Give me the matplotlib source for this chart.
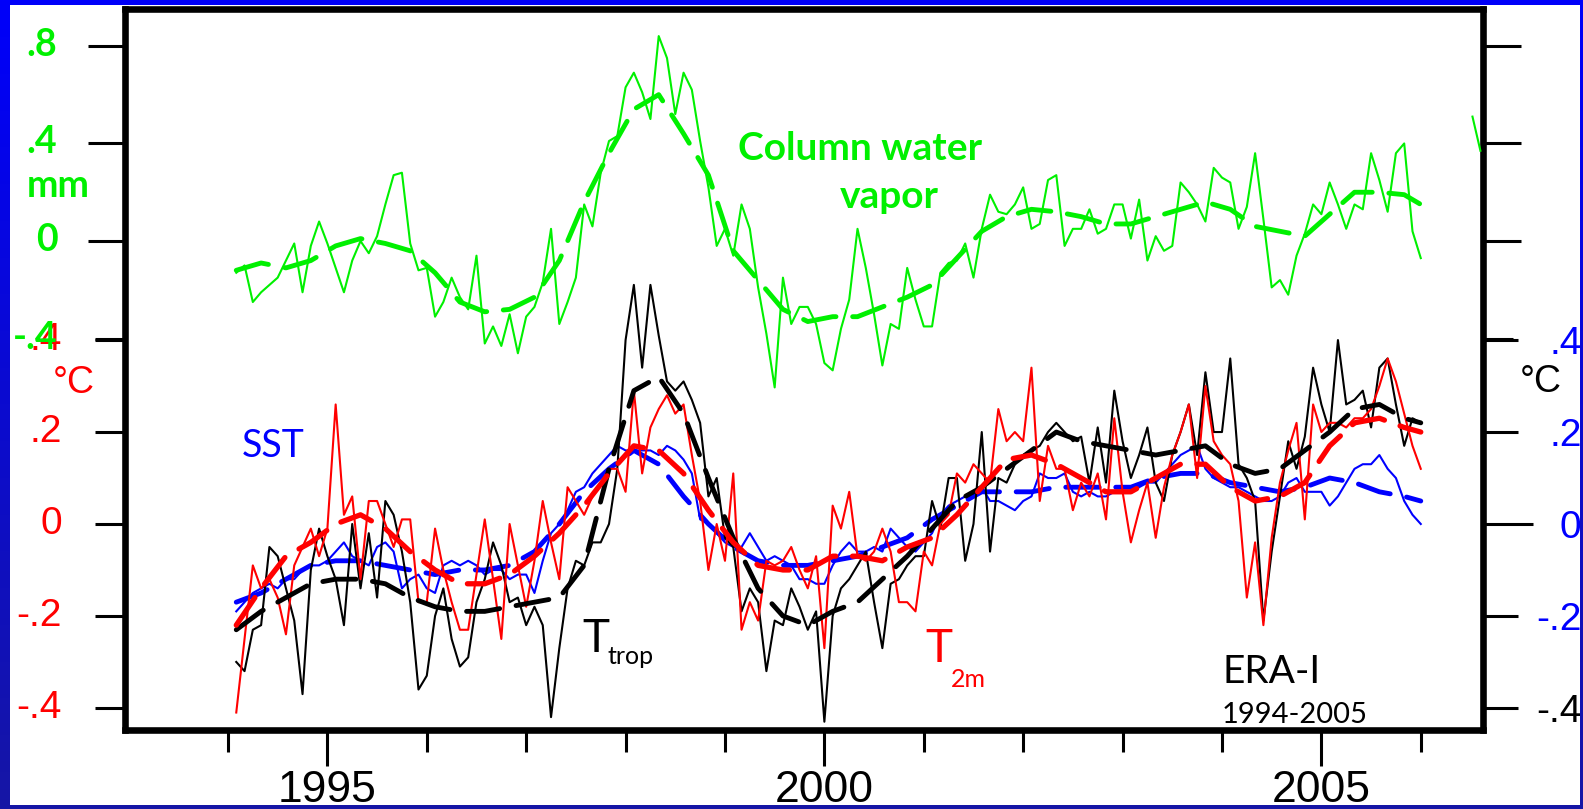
import numpy as np
import matplotlib
matplotlib.use("Agg")
import matplotlib.pyplot as plt
from matplotlib.transforms import ScaledTranslation

plt.rcParams['font.family'] = ['Liberation Sans', 'DejaVu Sans']
plt.rcParams['lines.scale_dashes'] = False

# ---------------- data ----------------
years_major = [1995, 2000, 2005]
years_minor = [1994, 1996, 1997, 1998, 1999, 2001, 2002, 2003, 2004, 2006]
cwv_ticks = [0.0, 0.4, 0.8]
cwv_ticklabels = ['0', '.4', '.8']
temp_ticks = [-0.4, -0.2, 0.0, 0.2, 0.4]
temp_ticklabels = ['-.4', '-.2', '0', '.2', '.4']

month = np.arange(144)
t_month = 1994 + (month + 1) / 12.0
smooth_idx = np.r_[np.arange(0, 142, 3), 143]
t_smooth = 1994 + (smooth_idx + 1) / 12.0

# column water vapor anomaly (mm), monthly
cwv = [-0.13, -0.10, -0.25, -0.21, -0.18, -0.15, -0.08, -0.01, -0.21, -0.02, 0.08, -0.01,
       -0.11, -0.21, -0.08, 0.00, -0.05, 0.02, 0.15, 0.27, 0.28, -0.01, -0.12, -0.11,
       -0.31, -0.25, -0.15, -0.23, -0.28, -0.06, -0.42, -0.35, -0.43, -0.30, -0.46, -0.31,
       -0.27, -0.17, 0.05, -0.34, -0.25, -0.15, 0.15, 0.06, 0.28, 0.41, 0.43, 0.63,
       0.69, 0.61, 0.50, 0.84, 0.75, 0.52, 0.69, 0.62, 0.41, 0.22, -0.02, 0.05,
       -0.06, 0.15, 0.05, -0.19, -0.38, -0.60, -0.15, -0.34, -0.27, -0.27, -0.34, -0.50,
       -0.53, -0.36, -0.24, 0.05, -0.11, -0.30, -0.51, -0.34, -0.36, -0.11, -0.24, -0.35,
       -0.35, -0.13, -0.09, -0.08, -0.01, -0.15, 0.05, 0.19, 0.12, 0.11, 0.15, 0.22,
       0.05, 0.07, 0.25, 0.27, -0.02, 0.05, 0.05, 0.13, 0.03, 0.05, 0.15, 0.15,
       0.01, 0.17, -0.08, 0.02, -0.04, -0.02, 0.24, 0.20, 0.15, 0.08, 0.30, 0.26,
       0.24, 0.05, 0.14, 0.36, 0.09, -0.19, -0.16, -0.22, -0.06, 0.03, 0.15, 0.11,
       0.24, 0.15, 0.05, 0.15, 0.13, 0.36, 0.25, 0.12, 0.36, 0.40, 0.04, -0.07]
cwv_smooth = [-0.12, -0.09, -0.11, -0.08, -0.02, 0.01, -0.01, -0.04, -0.13, -0.25, -0.29, -0.28,
              -0.23, -0.08, 0.16, 0.36, 0.54, 0.60, 0.44, 0.27, -0.04, -0.16, -0.28, -0.33,
              -0.31, -0.31, -0.27, -0.23, -0.18, -0.07, 0.04, 0.10, 0.13, 0.12, 0.10, 0.07,
              0.07, 0.10, 0.13, 0.16, 0.13, 0.06, 0.04, 0.02, 0.11, 0.20, 0.20, 0.19, 0.15]
cwv_stray_t = [2006.52, 2006.60]
cwv_stray = [0.51, 0.37]

# SST anomaly (C)
sst = [-0.19, -0.17, -0.15, -0.14, -0.13, -0.14, -0.12, -0.12, -0.10, -0.09, -0.09, -0.08,
       -0.06, -0.04, -0.07, -0.08, -0.09, -0.05, -0.04, -0.06, -0.14, -0.12, -0.11, -0.14,
       -0.15, -0.09, -0.08, -0.09, -0.08, -0.09, -0.11, -0.10, -0.10, -0.12, -0.11, -0.11,
       -0.15, -0.08, -0.02, 0.00, 0.03, 0.07, 0.08, 0.11, 0.13, 0.15, 0.17, 0.16,
       0.16, 0.16, 0.16, 0.15, 0.17, 0.16, 0.14, 0.11, 0.01, 0.00, -0.02, -0.04,
       -0.05, -0.05, -0.02, -0.05, -0.08, -0.07, -0.08, -0.09, -0.12, -0.12, -0.13, -0.13,
       -0.09, -0.06, -0.04, -0.06, -0.06, -0.05, -0.06, -0.01, -0.03, -0.05, -0.06, -0.04,
       -0.02, 0.02, 0.04, 0.05, 0.06, 0.07, 0.08, 0.05, 0.05, 0.04, 0.03, 0.05,
       0.06, 0.11, 0.10, 0.10, 0.11, 0.07, 0.06, 0.07, 0.06, 0.06, 0.07, 0.07,
       0.07, 0.08, 0.09, 0.09, 0.11, 0.13, 0.15, 0.16, 0.17, 0.12, 0.10, 0.09,
       0.08, 0.08, 0.07, 0.06, 0.05, 0.05, 0.06, 0.09, 0.10, 0.07, 0.07, 0.07,
       0.04, 0.06, 0.09, 0.12, 0.13, 0.13, 0.15, 0.12, 0.10, 0.05, 0.02, 0.00]
sst_smooth = [-0.17, -0.15, -0.12, -0.09, -0.08, -0.08, -0.09, -0.10, -0.11, -0.10, -0.10, -0.09,
              -0.06, 0.00, 0.07, 0.12, 0.16, 0.13, 0.06, 0.00, -0.05, -0.08, -0.09, -0.09,
              -0.08, -0.07, -0.05, -0.03, 0.01, 0.04, 0.07, 0.07, 0.07, 0.08, 0.08, 0.08,
              0.08, 0.10, 0.11, 0.11, 0.09, 0.08, 0.07, 0.08, 0.10, 0.09, 0.07, 0.06, 0.05]

# tropospheric temperature anomaly (C)
ttrop = [-0.30, -0.32, -0.23, -0.22, -0.05, -0.07, -0.14, -0.21, -0.37, -0.10, -0.01, -0.07,
         -0.12, -0.22, 0.00, -0.14, -0.02, -0.16, 0.05, 0.02, -0.06, -0.17, -0.36, -0.33,
         -0.20, -0.14, -0.25, -0.31, -0.29, -0.17, -0.12, -0.04, -0.09, -0.17, -0.16, -0.22,
         -0.18, -0.22, -0.42, -0.27, -0.14, -0.08, -0.09, -0.04, -0.04, 0.00, 0.12, 0.40,
         0.52, 0.34, 0.52, 0.41, 0.31, 0.29, 0.31, 0.27, 0.22, 0.06, 0.10, -0.03,
         -0.05, -0.19, -0.14, -0.17, -0.32, -0.21, -0.22, -0.14, -0.18, -0.23, -0.19, -0.43,
         -0.20, -0.14, -0.12, -0.09, -0.06, -0.17, -0.27, -0.13, -0.12, -0.09, -0.07, -0.07,
         0.05, -0.01, 0.10, 0.10, -0.08, 0.00, 0.20, -0.06, 0.10, 0.09, 0.13, 0.15,
         0.16, 0.17, 0.20, 0.22, 0.20, 0.18, 0.19, 0.09, 0.21, 0.09, 0.29, 0.18,
         0.10, 0.15, 0.21, 0.09, 0.05, 0.15, 0.20, 0.26, 0.15, 0.33, 0.20, 0.20,
         0.36, 0.13, 0.10, 0.05, -0.21, -0.06, 0.06, 0.18, 0.12, 0.19, 0.34, 0.26,
         0.20, 0.40, 0.26, 0.27, 0.29, 0.21, 0.34, 0.36, 0.26, 0.17, 0.23, 0.22]
ttrop_smooth = [-0.23, -0.19, -0.16, -0.13, -0.12, -0.12, -0.13, -0.16, -0.18, -0.19, -0.19, -0.18,
                -0.17, -0.16, -0.09, 0.12, 0.29, 0.32, 0.24, 0.10, -0.03, -0.14, -0.20, -0.22,
                -0.19, -0.17, -0.12, -0.07, -0.01, 0.05, 0.08, 0.12, 0.16, 0.20, 0.18, 0.17,
                0.16, 0.15, 0.16, 0.17, 0.13, 0.11, 0.12, 0.16, 0.20, 0.25, 0.26, 0.23, 0.22]

# 2 m temperature anomaly (C)
t2m = [-0.41, -0.25, -0.09, -0.14, -0.12, -0.16, -0.24, -0.09, -0.05, -0.01, -0.07, -0.01,
       0.26, 0.02, 0.06, -0.12, 0.05, 0.05, 0.00, -0.05, 0.01, 0.01, -0.17, -0.17,
       -0.01, -0.10, -0.17, -0.23, -0.23, -0.11, 0.01, -0.12, -0.25, 0.00, -0.09, -0.18,
       -0.08, 0.05, -0.04, -0.12, 0.08, 0.05, 0.02, 0.06, 0.09, 0.12, 0.12, 0.07,
       0.29, 0.11, 0.21, 0.25, 0.28, 0.24, 0.26, 0.15, 0.05, -0.10, 0.00, -0.08,
       0.11, -0.23, -0.17, -0.21, -0.08, -0.09, -0.08, -0.05, -0.10, -0.14, -0.07, -0.27,
       0.04, -0.01, 0.07, -0.07, -0.08, -0.06, -0.01, -0.06, -0.17, -0.17, -0.19, -0.06,
       -0.09, 0.00, 0.02, 0.11, 0.09, 0.13, 0.11, 0.09, 0.25, 0.18, 0.20, 0.18,
       0.34, 0.05, 0.17, 0.12, 0.12, 0.03, 0.09, 0.06, 0.11, 0.01, 0.23, 0.07,
       -0.04, 0.03, 0.09, -0.03, 0.08, 0.15, 0.20, 0.26, 0.10, 0.30, 0.18, 0.15,
       0.13, 0.05, -0.16, -0.04, -0.22, -0.03, 0.09, 0.16, 0.22, 0.01, 0.26, 0.20,
       0.22, 0.22, 0.21, 0.23, 0.23, 0.25, 0.30, 0.36, 0.31, 0.24, 0.17, 0.12]
t2m_smooth = [-0.22, -0.14, -0.07, -0.04, 0.00, 0.02, -0.01, -0.06, -0.10, -0.13, -0.13, -0.11,
              -0.07, -0.02, 0.04, 0.11, 0.17, 0.16, 0.11, 0.03, -0.04, -0.09, -0.10, -0.10,
              -0.07, -0.07, -0.08, -0.05, -0.03, 0.02, 0.08, 0.14, 0.15, 0.13, 0.10, 0.07,
              0.07, 0.10, 0.13, 0.13, 0.08, 0.05, 0.06, 0.09, 0.17, 0.22, 0.23, 0.21, 0.20]

# ---------------- layout helpers ----------------
W, H = 1583, 809
fig = plt.figure(figsize=(W / 100, H / 100), dpi=100, facecolor='white')


def fx(x):
    return x / W


def fy(y):
    return 1 - y / H


L, R, T, B = 125, 1483, 9, 730
rect = [fx(L), fy(B), fx(R) - fx(L), fy(T) - fy(B)]
XLIM = (1992.964, 2006.626)
TLIM = (-0.448, 1.120)
GLIM = (-2.004, 0.951)

GREEN = '#00f000'
RED = '#ff0000'
BLUE = '#0000ff'
lift = ScaledTranslation(0, 4 / 100, fig.dpi_scale_trans)

# temperature axes (left, red)
ax = fig.add_axes(rect)
ax.set_xlim(*XLIM)
ax.set_ylim(*TLIM)
ax.set_facecolor('white')
for s in ax.spines.values():
    s.set_linewidth(4.75)
ax.set_xticks(years_major, labels=[str(y) for y in years_major])
ax.set_xticks(years_minor, minor=True)
ax.tick_params(axis='x', which='major', direction='out', length=26, width=2.2,
               labelsize=32, pad=3, top=False)
ax.tick_params(axis='x', which='minor', direction='out', length=16, width=2.2, top=False)
ax.set_yticks(temp_ticks, labels=temp_ticklabels)
ax.tick_params(axis='y', which='major', direction='out', length=21.6, width=2.2,
               labelsize=28, labelcolor=RED, pad=24, left=True, right=False)
for lbl in ax.get_yticklabels():
    lbl.set_transform(lbl.get_transform() + lift)

dash = dict(dashes=(24, 12), dash_capstyle='round', solid_capstyle='round')
ax.plot(t_month, sst, color=BLUE, lw=1.5, zorder=3)
ax.plot(t_smooth, sst_smooth, color=BLUE, lw=3.5, zorder=4, **dash)
ax.plot(t_month, ttrop, color='black', lw=1.5, zorder=5)
ax.plot(t_month, t2m, color=RED, lw=1.5, zorder=6)
ax.plot(t_smooth, ttrop_smooth, color='black', lw=3.5, zorder=7, **dash)
ax.plot(t_smooth, t2m_smooth, color=RED, lw=3.8, zorder=8, **dash)

# column water vapour axes (left ticks green)
axg = fig.add_axes(rect, facecolor='none')
axg.set_xlim(*XLIM)
axg.set_ylim(*GLIM)
for s in axg.spines.values():
    s.set_visible(False)
axg.tick_params(axis='x', which='both', bottom=False, top=False, labelbottom=False)
axg.set_yticks(cwv_ticks, labels=cwv_ticklabels)
axg.set_yticks([-0.4], labels=['-.4'], minor=True)
axg.tick_params(axis='y', which='major', direction='out', length=27, width=2.2,
                labelsize=27, labelcolor=GREEN, pad=21.6, left=True, right=True)
axg.tick_params(axis='y', which='minor', direction='out', length=21.6, width=2.2,
                labelsize=27, labelcolor=GREEN, pad=27, left=True, right=True)
for lbl in axg.get_yticklabels(which='both'):
    lbl.set_fontfamily('Lato')
    lbl.set_fontweight('bold')
    lbl.set_transform(lbl.get_transform() + lift)
axg.plot(t_month, cwv, color=GREEN, lw=1.5)
axg.plot(t_smooth, cwv_smooth, color=GREEN, lw=3.5, **dash)
axg.plot(cwv_stray_t, cwv_stray, color=GREEN, lw=1.5)

# right temperature axis
axr = fig.add_axes(rect, facecolor='none')
axr.set_xlim(*XLIM)
axr.set_ylim(*TLIM)
for s in axr.spines.values():
    s.set_visible(False)
axr.tick_params(axis='x', which='both', bottom=False, top=False, labelbottom=False)
axr.yaxis.tick_right()
right_major = [-0.4, -0.2, 0.2, 0.4]
axr.set_yticks(right_major, labels=['-.4', '-.2', '.2', '.4'])
axr.set_yticks([0.0], labels=['0'], minor=True)
axr.tick_params(axis='y', which='major', direction='out', length=25, width=2.2,
                labelsize=28, pad=46, left=False, right=True)
axr.tick_params(axis='y', which='minor', direction='out', length=36, width=2.2,
                labelsize=28, pad=35, left=False, right=True)
right_colors = ['black', BLUE, BLUE, BLUE]
for lbl, c in zip(axr.get_yticklabels(), right_colors):
    lbl.set_color(c)
    lbl.set_horizontalalignment('right')
for lbl in axr.get_yticklabels(minor=True):
    lbl.set_color(BLUE)
    lbl.set_horizontalalignment('right')

# ---------------- annotations ----------------
fig.text(fx(738), fy(160), 'Column water', color=GREEN, family='Lato', weight='bold',
         size=28, ha='left', va='baseline')
fig.text(fx(840), fy(208), 'vapor', color=GREEN, family='Lato', weight='bold',
         size=28, ha='left', va='baseline')
fig.text(fx(242), fy(457), 'SST', color=BLUE, family='Lato', size=27, ha='left', va='baseline')
fig.text(fx(582), fy(652), 'T', color='black', family='Lato', size=33, ha='left', va='baseline')
fig.text(fx(608), fy(664), 'trop', color='black', family='Lato', size=18, ha='left', va='baseline')
fig.text(fx(925), fy(662), 'T', color=RED, family='Lato', size=33, ha='left', va='baseline')
fig.text(fx(951), fy(687), '2m', color=RED, family='Lato', size=18, ha='left', va='baseline')
fig.text(fx(1222), fy(683), 'ERA-I', color='black', family='Lato', size=28, ha='left', va='baseline')
fig.text(fx(1222), fy(723), '1994-2005', color='black', family='Lato', size=21, ha='left', va='baseline')
fig.text(fx(27), fy(197), 'mm', color=GREEN, family='Lato', weight='bold', size=27,
         ha='left', va='baseline')
fig.text(fx(53), fy(393), '°C', color=RED, size=27, ha='left', va='baseline')
fig.text(fx(1520), fy(392), '°C', color='black', size=27, ha='left', va='baseline')

# ---------------- blue slide border ----------------
img = np.zeros((H, W, 4))
grad = np.linspace(0, 1, H)[:, None, None]
top_c = np.array([0, 0, 250]) / 255.0
bot_c = np.array([22, 22, 165]) / 255.0
img[..., :3] = top_c + (bot_c - top_c) * grad
img[..., 3] = 1.0
img[5:805, 10:1580, 3] = 0.0
oax = fig.add_axes([0, 0, 1, 1], zorder=20)
oax.imshow(img, extent=(0, 1, 0, 1), aspect='auto', interpolation='nearest')
oax.set_axis_off()

fig.savefig('out.png', dpi=100, facecolor='white')
